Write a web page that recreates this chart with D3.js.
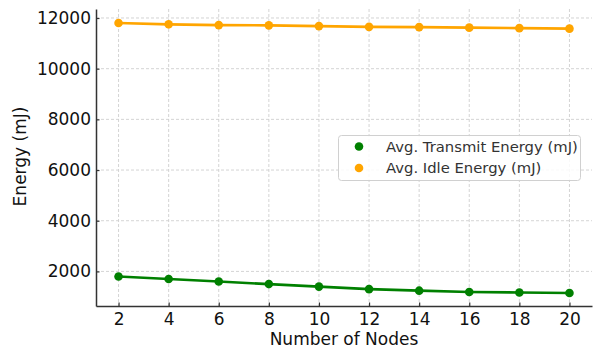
<!DOCTYPE html>
<html>
<head>
<meta charset="utf-8">
<script src="https://cdn.jsdelivr.net/npm/d3@7"></script>
<style>
  html, body { margin: 0; padding: 0; background: #fff; }
  svg { display: block; }
  text { font-family: "DejaVu Sans", sans-serif; }
</style>
</head>
<body>
<script>
// ---- data ----
const nodes = [2, 4, 6, 8, 10, 12, 14, 16, 18, 20];
const transmitEnergy = [1800, 1700, 1600, 1500, 1400, 1300, 1240, 1190, 1170, 1150];
const idleEnergy = [11800, 11750, 11720, 11710, 11680, 11650, 11640, 11620, 11600, 11580];
const xTicks = [2, 4, 6, 8, 10, 12, 14, 16, 18, 20];
const yTicks = [2000, 4000, 6000, 8000, 10000, 12000];
const xLimits = [1.1, 20.9];
const yLimits = [635, 12355];
const seriesNames = ["Avg. Transmit Energy (mJ)", "Avg. Idle Energy (mJ)"];
const seriesColors = ["#008000", "#FFA500"];

const W = 602, H = 358;
const margin = { left: 96, right: 10, top: 9, bottom: 52 };
const iw = W - margin.left - margin.right;
const ih = H - margin.top - margin.bottom;

const svg = d3.select("body").append("svg").attr("width", W).attr("height", H);
const g = svg.append("g").attr("transform", `translate(${margin.left},${margin.top})`);

const x = d3.scaleLinear().domain(xLimits).range([0, iw]);
const y = d3.scaleLinear().domain(yLimits).range([ih, 0]);

// grid
const grid = g.append("g").attr("class", "grid");
grid.selectAll("line.v").data(xTicks).join("line")
  .attr("x1", d => x(d)).attr("x2", d => x(d))
  .attr("y1", 0).attr("y2", ih)
  .attr("stroke", "#cfcfcf").attr("stroke-width", 0.9).attr("stroke-dasharray", "3,2");
grid.selectAll("line.h").data(yTicks).join("line")
  .attr("x1", 0).attr("x2", iw)
  .attr("y1", d => y(d)).attr("y2", d => y(d))
  .attr("stroke", "#cfcfcf").attr("stroke-width", 0.9).attr("stroke-dasharray", "3,2");

// axes
const xAxis = d3.axisBottom(x).tickValues(xTicks).tickSizeInner(-3.5).tickSizeOuter(0).tickPadding(7);
const yAxis = d3.axisLeft(y).tickValues(yTicks).tickFormat(d3.format("d")).tickSizeInner(-3.5).tickSizeOuter(0).tickPadding(5);

const gx = g.append("g").attr("transform", `translate(0,${ih})`).call(xAxis);
const gy = g.append("g").call(yAxis);
[gx, gy].forEach(a => {
  a.select(".domain").attr("stroke", "#333").attr("stroke-width", 1.5);
  a.selectAll(".tick line").attr("stroke", "#333").attr("stroke-width", 1.2);
  a.selectAll(".tick text").attr("fill", "#111").style("font-size", "17px")
    .style("font-family", "'DejaVu Sans', sans-serif");
});

// series
const series = [transmitEnergy, idleEnergy];
const line = d3.line().x((d, i) => x(nodes[i])).y(d => y(d));
series.forEach((vals, si) => {
  g.append("path").datum(vals)
    .attr("fill", "none").attr("stroke", seriesColors[si])
    .attr("stroke-width", 2.6).attr("stroke-linejoin", "round")
    .attr("d", line);
  g.selectAll(null).data(vals).join("circle")
    .attr("cx", (d, i) => x(nodes[i])).attr("cy", d => y(d))
    .attr("r", 4.3).attr("fill", seriesColors[si]);
});

// axis labels
svg.append("text").attr("x", margin.left + iw / 2).attr("y", 345)
  .attr("text-anchor", "middle").style("font-size", "17px").attr("fill", "#111")
  .text("Number of Nodes");
svg.append("text").attr("transform", "translate(25.5,156.5) rotate(-90)")
  .attr("text-anchor", "middle").style("font-size", "17px").attr("fill", "#111")
  .text("Energy (mJ)");

// legend
const lg = svg.append("g");
lg.append("rect").attr("x", 338.5).attr("y", 135.5).attr("width", 242).attr("height", 45)
  .attr("rx", 3).attr("fill", "#fff").attr("fill-opacity", 0.85)
  .attr("stroke", "#d0d0d0").attr("stroke-width", 1);
seriesNames.forEach((name, i) => {
  const cy = 146.5 + i * 21.5;
  lg.append("circle").attr("cx", 359).attr("cy", cy).attr("r", 4.3).attr("fill", seriesColors[i]);
  lg.append("text").attr("x", 386).attr("y", cy + 5.3)
    .style("font-size", "14.8px").attr("fill", "#333").text(name);
});
</script>
</body>
</html>
